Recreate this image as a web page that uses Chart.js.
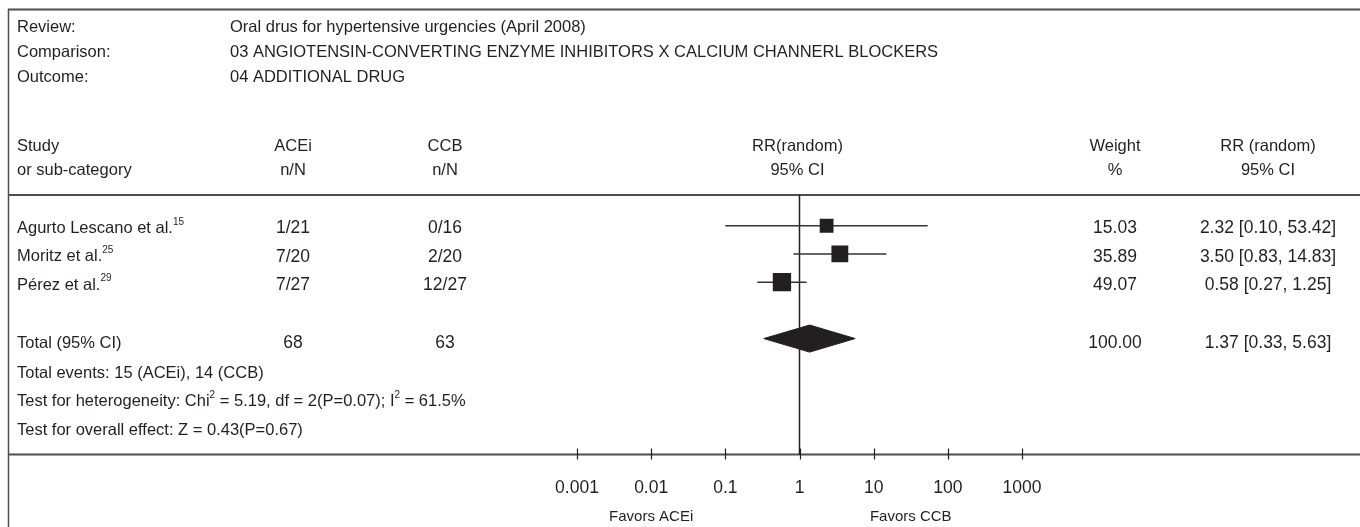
<!DOCTYPE html>
<html>
<head>
<meta charset="utf-8">
<title>Forest plot - ACEi vs CCB, additional drug</title>
<script src="https://cdn.jsdelivr.net/npm/chart.js@4.4.1/dist/chart.umd.min.js"></script>
<style>
  html, body { margin: 0; padding: 0; background: #fff; }
  canvas { display: block; }
</style>
</head>
<body>
<canvas id="forestChart" width="1360" height="527"></canvas>
<script>
// header texts
const reviewText = 'Oral drus for hypertensive urgencies (April 2008)';
const comparisonText = '03 ANGIOTENSIN-CONVERTING ENZYME INHIBITORS X CALCIUM CHANNERL BLOCKERS';
const outcomeText = '04 ADDITIONAL DRUG';

// studies
const studyNames = ['Agurto Lescano et al.', 'Moritz et al.', 'Pérez et al.'];
const studyRefs = ['15', '25', '29'];
const aceiCounts = ['1/21', '7/20', '7/27'];
const ccbCounts = ['0/16', '2/20', '12/27'];
const rrValues = [2.32, 3.50, 0.58];
const ciLow = [0.10, 0.83, 0.27];
const ciHigh = [53.42, 14.83, 1.25];
const weights = [15.03, 35.89, 49.07];
const studyRows = [1, 2, 3];

// pooled result
const totalAcei = 68;
const totalCcb = 63;
const totalRR = 1.37;
const totalLow = 0.33;
const totalHigh = 5.63;
const totalWeight = 100.00;
const totalRow = 5;

// axis
const xTickValues = [0.001, 0.01, 0.1, 1, 10, 100, 1000];
const xTickLabels = ['0.001', '0.01', '0.1', '1', '10', '100', '1000'];

// look
const FONT = '"Liberation Sans", Arial, sans-serif';
const INK = '#231f20';
const RULE = '#4d4d4d';
const TXT = 16.5;   // words
const NUM = 17.5;   // figures are a little wider in the original
const fmt2 = v => v.toFixed(2);

function ciText(est, lo, hi) {
  return fmt2(est) + ' [' + fmt2(lo) + ', ' + fmt2(hi) + ']';
}

// draw text made of pieces, some of them superscript
function drawParts(ctx, parts, x, y, align, size) {
  const supSize = Math.round(size * 0.62);
  let total = 0;
  parts.forEach(p => {
    ctx.font = (p.sup ? supSize : size) + 'px ' + FONT;
    p.w = ctx.measureText(p.t).width;
    total += p.w;
  });
  let cx = align === 'center' ? x - total / 2 : (align === 'right' ? x - total : x);
  ctx.textAlign = 'left';
  parts.forEach(p => {
    ctx.font = (p.sup ? supSize : size) + 'px ' + FONT;
    ctx.fillText(p.t, cx, p.sup ? y - size * 0.38 : y);
    cx += p.w;
  });
}

const tablePlugin = {
  id: 'forestTable',
  beforeDatasetsDraw(chart) {
    const ctx = chart.ctx;
    const area = chart.chartArea;
    const xs = chart.scales.x;
    const ys = chart.scales.y;
    const W = chart.width;
    const H = chart.height;

    ctx.save();
    // frame and rules
    ctx.strokeStyle = RULE;
    ctx.lineWidth = 2;
    ctx.beginPath();
    ctx.moveTo(8, 9.5); ctx.lineTo(W, 9.5);
    ctx.moveTo(8, area.top); ctx.lineTo(W, area.top);
    ctx.moveTo(8, area.bottom); ctx.lineTo(W, area.bottom);
    ctx.stroke();
    ctx.lineWidth = 1.5;
    ctx.beginPath();
    ctx.moveTo(8.5, 9); ctx.lineTo(8.5, H);
    ctx.stroke();

    // line of no effect
    const x1 = xs.getPixelForValue(1);
    ctx.strokeStyle = INK;
    ctx.lineWidth = 1.5;
    ctx.beginPath();
    ctx.moveTo(x1, area.top);
    ctx.lineTo(x1, area.bottom);
    ctx.stroke();

    // tick marks crossing the axis rule
    ctx.lineWidth = 1.2;
    ctx.beginPath();
    xTickValues.forEach(v => {
      const px = Math.round(xs.getPixelForValue(v)) + 0.5;
      ctx.moveTo(px, area.bottom - 6);
      ctx.lineTo(px, area.bottom + 5);
    });
    ctx.stroke();

    // texts
    ctx.fillStyle = INK;
    ctx.textBaseline = 'middle';

    const labelX = 17, valueX = 230, aceiX = 293, ccbX = 445;
    const weightX = 1115, ciX = 1268, rrX = x1 - 2;

    const put = (t, x, y, align, size) => {
      ctx.font = (size || TXT) + 'px ' + FONT;
      ctx.textAlign = align;
      ctx.fillText(t, x, y);
    };

    put('Review:', labelX, 27, 'left');
    put(reviewText, valueX, 27, 'left');
    put('Comparison:', labelX, 52, 'left');
    put(comparisonText, valueX, 52, 'left');
    put('Outcome:', labelX, 77, 'left');
    put(outcomeText, valueX, 77, 'left');

    const h1 = 146, h2 = 170;
    put('Study', labelX, h1, 'left');
    put('ACEi', aceiX, h1, 'center');
    put('CCB', ccbX, h1, 'center');
    put('RR(random)', rrX, h1, 'center');
    put('Weight', weightX, h1, 'center');
    put('RR (random)', ciX, h1, 'center');
    put('or sub-category', labelX, h2, 'left');
    put('n/N', aceiX, h2, 'center');
    put('n/N', ccbX, h2, 'center');
    put('95% CI', rrX, h2, 'center');
    put('%', weightX, h2, 'center');
    put('95% CI', ciX, h2, 'center');

    studyNames.forEach((name, i) => {
      const y = ys.getPixelForValue(studyRows[i]) + 2.8;
      drawParts(ctx, [{ t: name }, { t: studyRefs[i], sup: true }], labelX, y, 'left', TXT);
      put(aceiCounts[i], aceiX, y, 'center', NUM);
      put(ccbCounts[i], ccbX, y, 'center', NUM);
      put(fmt2(weights[i]), weightX, y, 'center', NUM);
      put(ciText(rrValues[i], ciLow[i], ciHigh[i]), ciX, y, 'center', NUM);
    });

    const ty = ys.getPixelForValue(totalRow) + 4.5;
    put('Total (95% CI)', labelX, ty, 'left');
    put(String(totalAcei), aceiX, ty, 'center', NUM);
    put(String(totalCcb), ccbX, ty, 'center', NUM);
    put(fmt2(totalWeight), weightX, ty, 'center', NUM);
    put(ciText(totalRR, totalLow, totalHigh), ciX, ty, 'center', NUM);

    put('Total events: 15 (ACEi), 14 (CCB)', labelX, 373, 'left');
    drawParts(ctx, [
      { t: 'Test for heterogeneity: Chi' }, { t: '2', sup: true },
      { t: ' = 5.19, df = 2(P=0.07); I' }, { t: '2', sup: true },
      { t: ' = 61.5%' }
    ], labelX, 401.5, 'left', TXT);
    put('Test for overall effect: Z = 0.43(P=0.67)', labelX, 430.5, 'left');

    put('Favors ACEi', xs.getPixelForValue(0.01), 516.5, 'center', 15);
    put('Favors CCB', xs.getPixelForValue(31.6), 516.5, 'center', 15);
    ctx.restore();
  }
};

// datasets built from the arrays
const squareSide = w => 8.2 + 1.44 * Math.sqrt(w);
const squareData = studyNames.map((s, i) => ({ x: rrValues[i], y: studyRows[i] }));
const ciSets = studyNames.map((s, i) => ({
  type: 'line',
  data: [{ x: ciLow[i], y: studyRows[i] }, { x: ciHigh[i], y: studyRows[i] }],
  borderColor: '#333333',
  borderWidth: 1.5,
  pointRadius: 0,
  fill: false
}));
const halfH = 0.48;
const diamondData = [
  { x: totalLow, y: totalRow },
  { x: totalRR, y: totalRow - halfH },
  { x: totalHigh, y: totalRow },
  { x: totalRR, y: totalRow + halfH },
  { x: totalLow, y: totalRow }
];

const ctx = document.getElementById('forestChart').getContext('2d');
const forestChart = new Chart(ctx, {
  type: 'scatter',
  data: {
    datasets: [
      {
        data: squareData,
        pointStyle: 'rect',
        backgroundColor: INK,
        borderWidth: 0,
        pointRadius: c => squareSide(weights[c.dataIndex]) / Math.SQRT2,
        pointHoverRadius: c => squareSide(weights[c.dataIndex]) / Math.SQRT2
      },
      ...ciSets,
      {
        type: 'line',
        data: diamondData,
        borderColor: INK,
        backgroundColor: INK,
        borderWidth: 1,
        pointRadius: 0,
        tension: 0,
        fill: 'shape'
      }
    ]
  },
  options: {
    responsive: false,
    devicePixelRatio: 1,
    animation: false,
    events: [],
    layout: { padding: { left: 577, right: 1360 - 1022, top: 195, bottom: 0 } },
    plugins: { legend: { display: false }, tooltip: { enabled: false } },
    scales: {
      x: {
        type: 'logarithmic',
        min: 0.001,
        max: 1000,
        position: 'bottom',
        afterFit: s => { s.height = 527 - 454.5; },
        afterBuildTicks: s => { s.ticks = xTickValues.map(v => ({ value: v })); },
        grid: { display: false, drawTicks: false },
        border: { display: false },
        ticks: {
          autoSkip: false,
          maxRotation: 0,
          padding: 23,
          color: INK,
          font: { family: FONT, size: NUM },
          callback: (v, i) => xTickLabels[i]
        }
      },
      y: {
        type: 'linear',
        display: false,
        reverse: true,
        min: -0.09,
        max: 9.11
      }
    }
  },
  plugins: [tablePlugin]
});
</script>
</body>
</html>
